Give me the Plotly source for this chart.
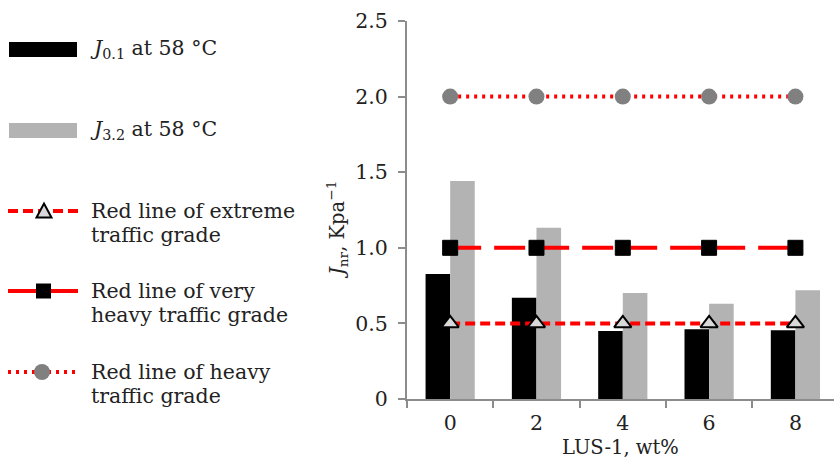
import plotly.graph_objects as go

# ---------------- data ----------------
categories = ["0", "2", "4", "6", "8"]
j01_values = [0.827, 0.670, 0.450, 0.461, 0.454]
j32_values = [1.442, 1.133, 0.701, 0.630, 0.719]
extreme_line = [0.5, 0.5, 0.5, 0.5, 0.5]
very_heavy_line = [1.0, 1.0, 1.0, 1.0, 1.0]
heavy_line = [2.0, 2.0, 2.0, 2.0, 2.0]
y_tickvals = [0, 0.5, 1.0, 1.5, 2.0, 2.5]
y_ticktext = ["0", "0.5", "1.0", "1.5", "2.0", "2.5"]

W, H = 834, 459
FONT = "DejaVu Serif"
TXT = "#222222"
AXC = "#8c8c8c"
RED = "#ff0000"
GREY_BAR = "#b3b3b3"


def px(x):
    return x / W


def py(y):
    return 1 - y / H


fig = go.Figure()
fig.add_trace(go.Bar(x=categories, y=j01_values, marker=dict(color="#000000", line=dict(width=0)),
                     name="J0.1"))
fig.add_trace(go.Bar(x=categories, y=j32_values, marker=dict(color=GREY_BAR, line=dict(width=0)),
                     name="J3.2"))
fig.add_trace(go.Scatter(x=categories, y=heavy_line, mode="lines+markers",
                         line=dict(color=RED, width=4, dash="3px,5px"),
                         marker=dict(symbol="circle", size=16, color="#808080", line=dict(width=0))))
fig.add_trace(go.Scatter(x=categories, y=very_heavy_line, mode="lines+markers",
                         line=dict(color=RED, width=4, dash="31px,13px"),
                         marker=dict(symbol="square", size=15, color="#000000",
                                     line=dict(width=1, color="#000000"))))
fig.add_trace(go.Scatter(x=categories, y=extreme_line, mode="lines+markers",
                         line=dict(color=RED, width=4, dash="10px,5px"),
                         marker=dict(symbol="triangle-up", size=15, color="#d9d9d9",
                                     line=dict(width=2, color="#000000"))))

# ---------------- legend (drawn manually) ----------------
shapes = []
annotations = []
lf = dict(family=FONT, size=20.5, color=TXT)

# bar entries
shapes.append(dict(type="rect", xref="paper", yref="paper", x0=px(9), x1=px(77), y0=py(42), y1=py(57),
                   fillcolor="#000000", line=dict(width=0)))
shapes.append(dict(type="rect", xref="paper", yref="paper", x0=px(9), x1=px(77), y0=py(123), y1=py(138),
                   fillcolor=GREY_BAR, line=dict(width=0)))
annotations.append(dict(x=px(88), y=py(49), xref="paper", yref="paper", xanchor="left", yanchor="middle",
                        showarrow=False, font=lf, text="<i>J</i><sub>0.1</sub> at 58 °C"))
annotations.append(dict(x=px(88), y=py(130), xref="paper", yref="paper", xanchor="left", yanchor="middle",
                        showarrow=False, font=lf, text="<i>J</i><sub>3.2</sub> at 58 °C"))

# line entries
line_entries = [
    (211, "10px,5px", ["Red line of extreme", "traffic grade"]),
    (291, "solid", ["Red line of very", "heavy traffic grade"]),
    (372, "3px,5px", ["Red line of heavy", "traffic grade"]),
]
for yy, dash, lines in line_entries:
    shapes.append(dict(type="line", xref="paper", yref="paper", x0=px(8), x1=px(78), y0=py(yy), y1=py(yy),
                       line=dict(color=RED, width=4, dash=dash)))
    for k, t in enumerate(lines):
        annotations.append(dict(x=px(89), y=py(yy + 24 * k), xref="paper", yref="paper",
                                xanchor="left", yanchor="middle", showarrow=False, font=lf, text=t))

# legend markers
cx, cy = 44, 211
tri = f"M {px(cx - 7.5)},{py(cy + 6.5)} L {px(cx + 7.5)},{py(cy + 6.5)} L {px(cx)},{py(cy - 7.5)} Z"
shapes.append(dict(type="path", xref="paper", yref="paper", path=tri, fillcolor="#d9d9d9",
                   line=dict(color="#000000", width=2)))
shapes.append(dict(type="rect", xref="paper", yref="paper", x0=px(36), x1=px(51), y0=py(283.5), y1=py(298.5),
                   fillcolor="#000000", line=dict(width=0)))
shapes.append(dict(type="circle", xref="paper", yref="paper", x0=px(34), x1=px(50), y0=py(364), y1=py(380),
                   fillcolor="#808080", line=dict(width=0)))

# axis titles
af = dict(family=FONT, size=19.5, color=TXT)
annotations.append(dict(x=px(620), y=py(447), xref="paper", yref="paper", xanchor="center", yanchor="middle",
                        showarrow=False, font=af, text="LUS-1, wt%", borderpad=0))
annotations.append(dict(x=px(337), y=py(230), xref="paper", yref="paper", xanchor="center", yanchor="middle",
                        showarrow=False, font=af, textangle=-90,
                        text="<i>J</i><sub>nr</sub>, Kpa<sup>−1</sup>"))

fig.update_layout(
    width=W, height=H,
    margin=dict(l=0, r=0, t=0, b=0, pad=0, autoexpand=False),
    paper_bgcolor="white", plot_bgcolor="white",
    barmode="group", bargap=0.43, bargroupgap=0,
    showlegend=False,
    shapes=shapes, annotations=annotations,
    font=dict(family=FONT, size=20, color=TXT),
    xaxis=dict(type="category", domain=[px(407), 1], range=[-0.5, 4.447], automargin=False,
               showline=True, linecolor=AXC, linewidth=2, showgrid=False, zeroline=False,
               ticks="outside", tickson="boundaries", ticklen=7, tickcolor=AXC, tickwidth=2,
               tickfont=dict(family=FONT, size=20.5, color=TXT), ticklabelstandoff=4),
    yaxis=dict(domain=[py(399), py(21)], range=[0, 2.5], automargin=False,
               showline=True, linecolor=AXC, linewidth=2, showgrid=False, zeroline=False,
               tickvals=y_tickvals, ticktext=y_ticktext,
               ticks="outside", ticklen=7, tickcolor=AXC, tickwidth=2,
               tickfont=dict(family=FONT, size=20.5, color=TXT), ticklabelstandoff=6),
)

fig.write_html("out.html")
